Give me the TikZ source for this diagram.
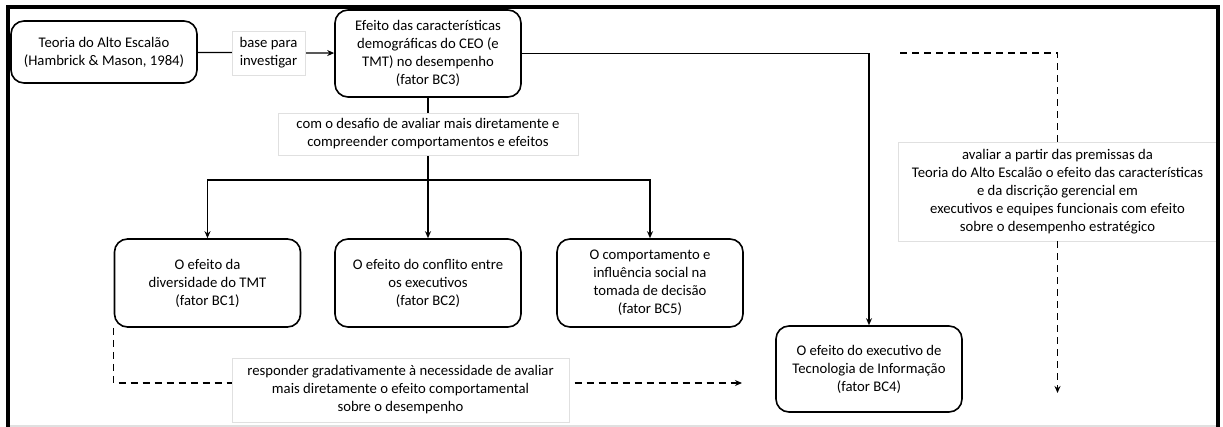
\documentclass[tikz,border=0pt]{standalone}
\usepackage{fontspec}
\setmainfont{Carlito}
\usetikzlibrary{arrows.meta}
\begin{document}
\begin{tikzpicture}[x=1pt,y=-1pt,font=\fontsize{14.7}{18}\selectfont,
  bc/.style={draw,line width=1.6pt,rounded corners=13pt,fill=white,minimum width=186pt,minimum height=87pt,align=center,inner sep=2pt},
  lbl/.style={draw=black!12,line width=0.9pt,fill=white,align=center,inner sep=3pt},
  arr/.style={line width=1.3pt,-{Stealth[length=7pt,width=6pt]}},
  dsh/.style={line width=1.4pt,dash pattern=on 7pt off 5pt}]
  \useasboundingbox (0,0) rectangle (1223,427);
  \node[bc,minimum height=62pt] (teoria) at (104,52){Teoria do Alto Escalão\\(Hambrick \& Mason, 1984)};
  \node[bc] (bc3) at (428,53.5){Efeito das características\\demográficas do CEO (e\\TMT) no desempenho\\(fator BC3)};
  \node[bc,minimum height=88pt] (bc1) at (207.5,283){O efeito da\\diversidade do TMT\\(fator BC1)};
  \node[bc,minimum height=88pt] (bc2) at (428,283){O efeito do conflito entre\\os executivos\\(fator BC2)};
  \node[bc,minimum height=88pt] (bc5) at (650,283){O comportamento e\\influência social na\\tomada de decisão\\(fator BC5)};
  \node[bc,minimum height=86pt] (bc4) at (869,369){O efeito do executivo de\\Tecnologia de Informação\\(fator BC4)};
  \coordinate (split) at (428,180);
  \coordinate (respend) at (742,383);
  \coordinate (avstart) at (900,53);
  \coordinate (avend) at (1057.5,393);
  \draw[arr] (teoria) -- (bc3);
  \draw[line width=1.3pt] (bc3) -- (split);
  \draw[arr] (split) -| (bc1.north);
  \draw[arr] (split) -- (bc2.north);
  \draw[arr] (split) -| (bc5.north);
  \draw[arr] (bc3.east) -| (bc4.north);
  \draw[dsh,-{Stealth[length=7pt,width=6pt]}] (bc1.south west) |- (respend);
  \node[lbl,minimum width=73pt,minimum height=44pt] (base) at (268.5,53){base para\\investigar};
  \node[lbl,minimum width=300pt,minimum height=42pt] (desafio) at (428,134){com o desafio de avaliar mais diretamente e\\compreender comportamentos e efeitos};
  \node[lbl,minimum width=337pt,minimum height=64pt] (resp) at (400.5,390){responder gradativamente à necessidade de avaliar\\mais diretamente o efeito comportamental\\sobre o desempenho};
  \node[lbl,minimum width=319pt,minimum height=99pt] (aval) at (1057.5,191.5){avaliar a partir das premissas da\\Teoria do Alto Escalão o efeito das características\\e da discrição gerencial em\\executivos e equipes funcionais com efeito\\sobre o desempenho estratégico};
  \draw[dsh] (avstart) -| (aval.north);
  \draw[dsh,-{Stealth[length=7pt,width=6pt]}] (aval.south) -- (avend);
  \draw[black!12,line width=1.5pt] (8,426) -- (1218,426);
  \draw[line width=4pt] (8,430) -- (8,7) -- (1218,7) -- (1218,430);
\end{tikzpicture}
\end{document}
